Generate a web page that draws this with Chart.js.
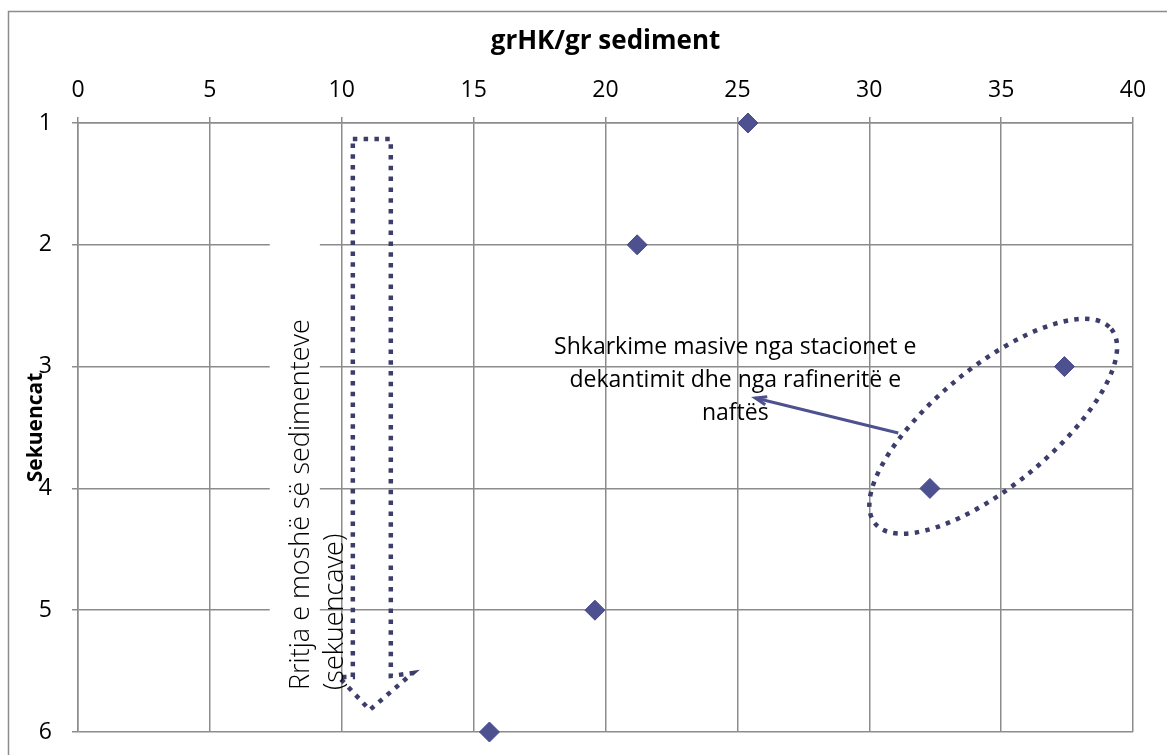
<!DOCTYPE html>
<html>
<head>
<meta charset="utf-8">
<script src="https://cdn.jsdelivr.net/npm/chart.js@4.4.1/dist/chart.umd.min.js"></script>
<style>
  html, body { margin: 0; padding: 0; background: #ffffff; }
  #wrap { width: 1167px; height: 755px; position: relative; }
</style>
</head>
<body>
<div id="wrap"><canvas id="c" width="1167" height="755"></canvas></div>
<script>
// ---- data ----
const sequences = [1, 2, 3, 4, 5, 6];                 // Sekuencat
const grHK = [25.4, 21.2, 37.4, 32.3, 19.6, 15.6];    // grHK/gr sediment
const xTickValues = [0, 5, 10, 15, 20, 25, 30, 35, 40];
const yTickValues = [1, 2, 3, 4, 5, 6];
const xTitle = 'grHK/gr sediment';
const yTitle = 'Sekuencat';
const noteText = ['Shkarkime masive nga stacionet e', 'dekantimit dhe nga rafineritë e', 'naftës'];
const ageText = ['Rritja e moshë së sedimenteve', '(sekuencave)'];

const FONT = '"Open Sans", Lato, sans-serif';
const GRID = '#8c8c8c';
const MARK = '#4e5190';
const DOT = '#3c3d6a';

const annotationPlugin = {
  id: 'annots',
  beforeDraw(chart) {
    const ctx = chart.ctx;
    ctx.save();
    ctx.strokeStyle = '#8c8c8c';
    ctx.lineWidth = 1.5;
    ctx.beginPath();
    ctx.moveTo(8.5, 760); ctx.lineTo(8.5, 11.5); ctx.lineTo(1170, 11.5);
    ctx.stroke();
    ctx.restore();
  },
  beforeDatasetsDraw(chart) {
    const ctx = chart.ctx, xs = chart.scales.x, ys = chart.scales.y;
    // white box behind rotated text
    const x0 = xs.getPixelForValue(7.27), x1 = xs.getPixelForValue(9.17);
    const y0 = ys.getPixelForValue(1.67), y1 = ys.getPixelForValue(5.78);
    ctx.save();
    ctx.fillStyle = '#ffffff';
    ctx.fillRect(x0, y0, x1 - x0, y1 - y0);
    ctx.restore();
  },
  afterDatasetsDraw(chart) {
    const ctx = chart.ctx, xs = chart.scales.x, ys = chart.scales.y;
    const P = (x, y) => [xs.getPixelForValue(x), ys.getPixelForValue(y)];
    ctx.save();
    // dotted down arrow
    const shape = [[10.42, 1.131], [11.86, 1.131], [11.86, 5.54], [12.69, 5.516],
                   [11.06, 5.819], [9.89, 5.549], [10.42, 5.549]];
    ctx.strokeStyle = DOT;
    ctx.lineWidth = 4.5;
    ctx.setLineDash([4.5, 6.3]);
    ctx.lineCap = 'butt';
    ctx.beginPath();
    shape.forEach((p, i) => { const [px, py] = P(p[0], p[1]); i ? ctx.lineTo(px, py) : ctx.moveTo(px, py); });
    ctx.closePath();
    ctx.stroke();

    // dotted ellipse
    const [cx, cy] = P(34.7, 3.49);
    ctx.beginPath();
    ctx.ellipse(cx, cy, 153, 59, -39.5 * Math.PI / 180, 0, Math.PI * 2);
    ctx.stroke();
    ctx.setLineDash([]);

    // arrow from ellipse to note text
    const [ax, ay] = P(31.1, 3.545), [tx, ty] = P(25.68, 3.258);
    ctx.strokeStyle = MARK;
    ctx.lineWidth = 3;
    ctx.beginPath(); ctx.moveTo(ax, ay); ctx.lineTo(tx, ty); ctx.stroke();
    const ang = Math.atan2(ty - ay, tx - ax);
    ctx.beginPath();
    ctx.moveTo(tx - 12 * Math.cos(ang - 0.35), ty - 12 * Math.sin(ang - 0.35));
    ctx.lineTo(tx, ty);
    ctx.lineTo(tx - 12 * Math.cos(ang + 0.35), ty - 12 * Math.sin(ang + 0.35));
    ctx.stroke();

    // note text
    ctx.fillStyle = '#000000';
    ctx.font = '23px ' + FONT;
    ctx.textAlign = 'center';
    ctx.textBaseline = 'middle';
    const [nx, ny] = P(24.92, 2.84);
    noteText.forEach((t, i) => ctx.fillText(t, nx, ny + i * 33));

    // rotated text
    const [rx, ry] = P(8.48, 5.655);
    ctx.translate(rx, ry);
    ctx.rotate(-Math.PI / 2);
    ctx.textAlign = 'left';
    ctx.font = '300 27px ' + FONT;
    ageText.forEach((t, i) => ctx.fillText(t, 0, i * 34));
    ctx.restore();
  }
};

new Chart(document.getElementById('c'), {
  type: 'scatter',
  data: {
    datasets: [{
      data: sequences.map((s, i) => ({ x: grHK[i], y: s })),
      pointStyle: 'rectRot',
      pointRadius: 10,
      pointHoverRadius: 10,
      backgroundColor: MARK,
      borderColor: '#45488a',
      borderWidth: 1,
      clip: false
    }]
  },
  options: {
    responsive: false,
    animation: false,
    events: [],
    layout: { padding: { left: 10, top: 14, right: 34, bottom: 23 } },
    plugins: { legend: { display: false }, tooltip: { enabled: false } },
    scales: {
      x: {
        type: 'linear', position: 'top', min: 0, max: 40,
        afterBuildTicks: s => { s.ticks = xTickValues.map(v => ({ value: v })); },
        afterFit: s => { s.height = 123 - 14; s.paddingLeft = 0; s.paddingRight = 0; },
        ticks: { color: '#000', font: { family: FONT, size: 23 }, padding: 13 },
        grid: { color: GRID, lineWidth: 1.5, tickLength: 6, drawTicks: true },
        border: { color: GRID, width: 1.5 },
        title: { display: true, text: xTitle, color: '#000', font: { family: FONT, size: 26, weight: 'bold' }, padding: { top: 12, bottom: 0 } }
      },
      y: {
        type: 'linear', reverse: true, min: 1, max: 6,
        afterBuildTicks: s => { s.ticks = yTickValues.map(v => ({ value: v })); },
        afterFit: s => { s.width = 78 - 10; s.paddingTop = 0; s.paddingBottom = 0; },
        ticks: { color: '#000', font: { family: FONT, size: 23 }, padding: 20 },
        grid: { color: GRID, lineWidth: 1.5, tickLength: 6 },
        border: { color: GRID, width: 1.5 },
        title: { display: true, text: yTitle, color: '#000', font: { family: FONT, size: 21, weight: 'bold' }, padding: { top: 13, bottom: 0 } }
      }
    }
  },
  plugins: [annotationPlugin]
});
</script>
</body>
</html>
